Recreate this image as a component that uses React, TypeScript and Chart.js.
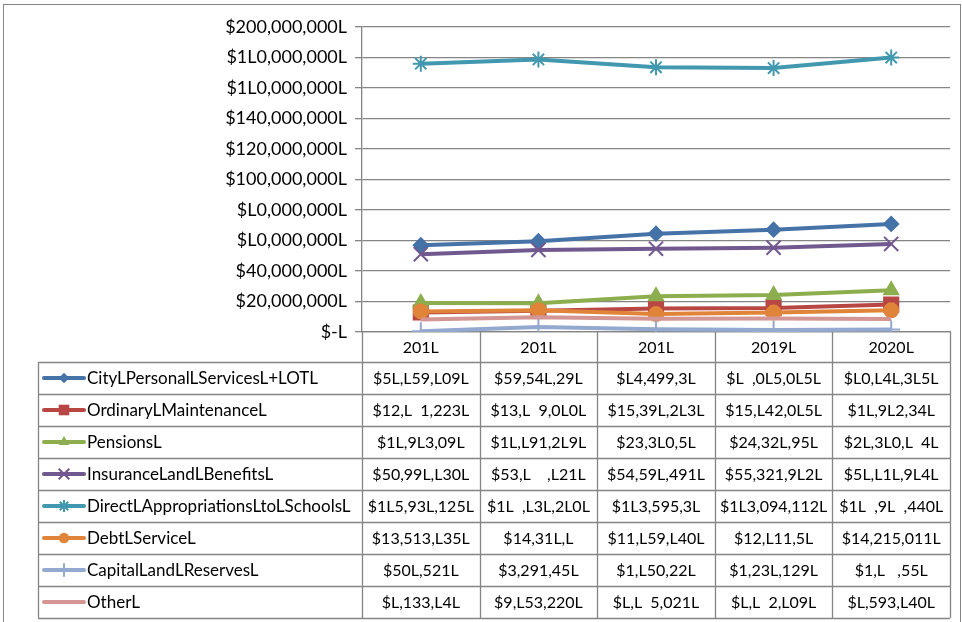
import React, { useEffect, useRef } from "react";
import { Chart, registerables } from "chart.js";

Chart.register(...registerables);

// ---------- data ----------
const categories = ["201L", "201L", "201L", "2019L", "2020L"];

const yTickLabels: Record<number, string> = {
  0: "$-L",
  20000000: "$20,000,000L",
  40000000: "$40,000,000L",
  60000000: "$L0,000,000L",
  80000000: "$L0,000,000L",
  100000000: "$100,000,000L",
  120000000: "$120,000,000L",
  140000000: "$140,000,000L",
  160000000: "$1L0,000,000L",
  180000000: "$1L0,000,000L",
  200000000: "$200,000,000L",
};

const seriesNames = [
  "CityLPersonalLServicesL+LOTL",
  "OrdinaryLMaintenanceL",
  "PensionsL",
  "InsuranceLandLBenefitsL",
  "DirectLAppropriationsLtoLSchoolsL",
  "DebtLServiceL",
  "CapitalLandLReservesL",
  "OtherL",
];

const cityPersonal = [56859709, 59546297, 64499378, 67085065, 70846385];
const ordinaryMaintenance = [12761223, 13869080, 15397273, 15742065, 17962346];
const pensions = [18973096, 18791289, 23370565, 24327958, 27370874];
const insurance = [50997830, 53806821, 54597491, 55321972, 57717974];
const directAppropriations = [175937125, 178737280, 173595378, 173094112, 179987440];
const debtService = [13513735, 14317700, 11759740, 12711568, 14215011];
const capitalReserves = [507521, 3291457, 1750226, 1237129, 1700557];
const other = [8133848, 9753220, 8765021, 8782709, 8593740];

const cityPersonalText = ["$5L,L59,L09L", "$59,54L,29L", "$L4,499,3L", "$L  ,0L5,0L5L", "$L0,L4L,3L5L"];
const ordinaryMaintenanceText = ["$12,L  1,223L", "$13,L  9,0L0L", "$15,39L,2L3L", "$15,L42,0L5L", "$1L,9L2,34L"];
const pensionsText = ["$1L,9L3,09L", "$1L,L91,2L9L", "$23,3L0,5L", "$24,32L,95L", "$2L,3L0,L  4L"];
const insuranceText = ["$50,99L,L30L", "$53,L    ,L21L", "$54,59L,491L", "$55,321,9L2L", "$5L,L1L,9L4L"];
const directAppropriationsText = ["$1L5,93L,125L", "$1L  ,L3L,2L0L", "$1L3,595,3L", "$1L3,094,112L", "$1L  ,9L  ,440L"];
const debtServiceText = ["$13,513,L35L", "$14,31L,L", "$11,L59,L40L", "$12,L11,5L", "$14,215,011L"];
const capitalReservesText = ["$50L,521L", "$3,291,45L", "$1,L50,22L", "$1,23L,129L", "$1,L   ,55L"];
const otherText = ["$L,133,L4L", "$9,L53,220L", "$L,L  5,021L", "$L,L  2,L09L", "$L,593,L40L"];

const seriesValues = [cityPersonal, ordinaryMaintenance, pensions, insurance, directAppropriations, debtService, capitalReserves, other];
const seriesTexts = [cityPersonalText, ordinaryMaintenanceText, pensionsText, insuranceText, directAppropriationsText, debtServiceText, capitalReservesText, otherText];

// ---------- styles ----------
const colors = ["#4572A7", "#B84744", "#8DAE4E", "#71588F", "#4198AF", "#E0843A", "#93A9CF", "#D49694"];
const pointStyles = ["rectRot", "rect", "triangle", "crossRot", "star", "circle", "cross", "line"];
const pointRadii = [7, 10, 8, 10, 8, 7, 9, 0];

const FONT = "Lato, 'Open Sans', sans-serif";
const GRID = "#858585";
const ROW_H = 32;
const TABLE_LEFT = 38;

function drawMarker(ctx: CanvasRenderingContext2D, style: string, x: number, y: number, r: number, color: string) {
  ctx.save();
  ctx.fillStyle = color;
  ctx.strokeStyle = color;
  ctx.lineWidth = 2;
  ctx.beginPath();
  if (style === "rectRot") {
    ctx.moveTo(x, y - r);
    ctx.lineTo(x + r, y);
    ctx.lineTo(x, y + r);
    ctx.lineTo(x - r, y);
    ctx.closePath();
    ctx.fill();
  } else if (style === "rect") {
    const s = r * Math.SQRT1_2;
    ctx.rect(x - s, y - s, 2 * s, 2 * s);
    ctx.fill();
  } else if (style === "triangle") {
    ctx.moveTo(x, y - r);
    ctx.lineTo(x + r * 0.866, y + r * 0.5);
    ctx.lineTo(x - r * 0.866, y + r * 0.5);
    ctx.closePath();
    ctx.fill();
  } else if (style === "circle") {
    ctx.arc(x, y, r, 0, Math.PI * 2);
    ctx.fill();
  } else if (style === "crossRot") {
    const d = r * Math.SQRT1_2;
    ctx.moveTo(x - d, y - d);
    ctx.lineTo(x + d, y + d);
    ctx.moveTo(x - d, y + d);
    ctx.lineTo(x + d, y - d);
    ctx.stroke();
  } else if (style === "star") {
    const d = r * Math.SQRT1_2;
    ctx.moveTo(x - d, y - d);
    ctx.lineTo(x + d, y + d);
    ctx.moveTo(x - d, y + d);
    ctx.lineTo(x + d, y - d);
    ctx.moveTo(x, y - r);
    ctx.lineTo(x, y + r);
    ctx.moveTo(x - r, y);
    ctx.lineTo(x + r, y);
    ctx.stroke();
  } else if (style === "cross") {
    ctx.moveTo(x, y - r);
    ctx.lineTo(x, y + r);
    ctx.moveTo(x - r, y);
    ctx.lineTo(x + r, y);
    ctx.stroke();
  }
  ctx.restore();
}

const tablePlugin = {
  id: "dataTable",
  afterDraw(chart: any) {
    const ctx: CanvasRenderingContext2D = chart.ctx;
    const x = chart.scales.x;
    const area = chart.chartArea;
    const n = categories.length;
    const colW = (area.right - area.left) / n;
    const top = area.bottom;
    const headerBottom = top + 30;
    const rows = seriesNames.length;
    const bottom = headerBottom + rows * ROW_H;

    ctx.save();
    // outer chart border
    ctx.strokeStyle = GRID;
    ctx.lineWidth = 1;
    ctx.strokeRect(3.5, 4.5, 957, 700);

    ctx.strokeStyle = GRID;
    ctx.lineWidth = 1.3;
    ctx.beginPath();
    for (let i = 0; i <= n; i++) {
      const vx = Math.round(area.left + i * colW) + 0.5;
      ctx.moveTo(vx, top);
      ctx.lineTo(vx, bottom);
    }
    ctx.moveTo(TABLE_LEFT + 0.5, headerBottom);
    ctx.lineTo(TABLE_LEFT + 0.5, bottom);
    for (let r = 0; r <= rows; r++) {
      const hy = Math.round(headerBottom + r * ROW_H) + 0.5;
      ctx.moveTo(TABLE_LEFT, hy);
      ctx.lineTo(area.right, hy);
    }
    ctx.stroke();

    ctx.fillStyle = "#000";
    ctx.font = `16px ${FONT}`;
    ctx.textAlign = "center";
    ctx.textBaseline = "middle";
    for (let i = 0; i < n; i++) {
      const cx = x.getPixelForValue(i);
      ctx.fillText(categories[i], cx, (top + headerBottom) / 2 + 1);
    }

    for (let r = 0; r < rows; r++) {
      const cy = headerBottom + r * ROW_H + ROW_H / 2 + 1;
      ctx.save();
      ctx.strokeStyle = colors[r];
      ctx.lineWidth = 4;
      ctx.lineCap = "round";
      ctx.beginPath();
      ctx.moveTo(44, cy - 1);
      ctx.lineTo(84, cy - 1);
      ctx.stroke();
      ctx.restore();
      if (pointRadii[r] > 0) drawMarker(ctx, pointStyles[r], 64, cy - 1, pointRadii[r] * 0.75, colors[r]);
      ctx.fillStyle = "#000";
      ctx.font = `17px ${FONT}`;
      ctx.textAlign = "left";
      ctx.fillText(seriesNames[r], 87, cy);
      ctx.font = `16px ${FONT}`;
      ctx.textAlign = "center";
      for (let i = 0; i < n; i++) {
        const cx = x.getPixelForValue(i);
        ctx.fillText(seriesTexts[r][i], cx, cy);
      }
    }
    ctx.restore();
  },
};

export default function App() {
  const ref = useRef<HTMLCanvasElement | null>(null);

  useEffect(() => {
    if (!ref.current) return;
    const nSeries = seriesNames.length;
    const datasets = seriesNames.map((name, i) => ({
      label: name,
      data: seriesValues[i],
      borderColor: colors[i],
      backgroundColor: colors[i],
      borderWidth: 4,
      pointStyle: pointStyles[i] as any,
      pointRadius: pointRadii[i],
      pointBackgroundColor: colors[i],
      pointBorderColor: colors[i],
      pointBorderWidth: 2,
      tension: 0,
      fill: false,
      order: nSeries - i,
    }));

    const chart = new Chart(ref.current, {
      type: "line",
      data: { labels: categories, datasets },
      options: {
        animation: false,
        responsive: false,
        devicePixelRatio: 1,
        layout: { padding: { top: 27, right: 7, left: 0, bottom: 0 } },
        plugins: { legend: { display: false }, tooltip: { enabled: false }, title: { display: false } },
        scales: {
          x: {
            type: "category",
            offset: true,
            ticks: { display: false },
            grid: { display: false, drawOnChartArea: false, drawTicks: false },
            border: { display: true, color: GRID, width: 1.3 },
            afterFit: (s: any) => {
              s.height = 290;
            },
          },
          y: {
            min: 0,
            max: 200000000,
            ticks: {
              stepSize: 20000000,
              color: "#000",
              font: { family: FONT, size: 18 },
              padding: 8,
              callback: (v: any) => yTickLabels[Number(v)] ?? "",
            },
            grid: { color: GRID, lineWidth: 1.3, tickLength: 7, drawTicks: true },
            border: { display: true, color: GRID, width: 1.3 },
            afterFit: (s: any) => {
              s.width = 362;
            },
          },
        },
      } as any,
      plugins: [tablePlugin],
    });
    return () => chart.destroy();
  }, []);

  return (
    <div style={{ position: "absolute", left: 0, top: 0, width: 962, height: 622, background: "#fff" }}>
      <canvas ref={ref} width={962} height={622} style={{ display: "block" }} />
    </div>
  );
}
